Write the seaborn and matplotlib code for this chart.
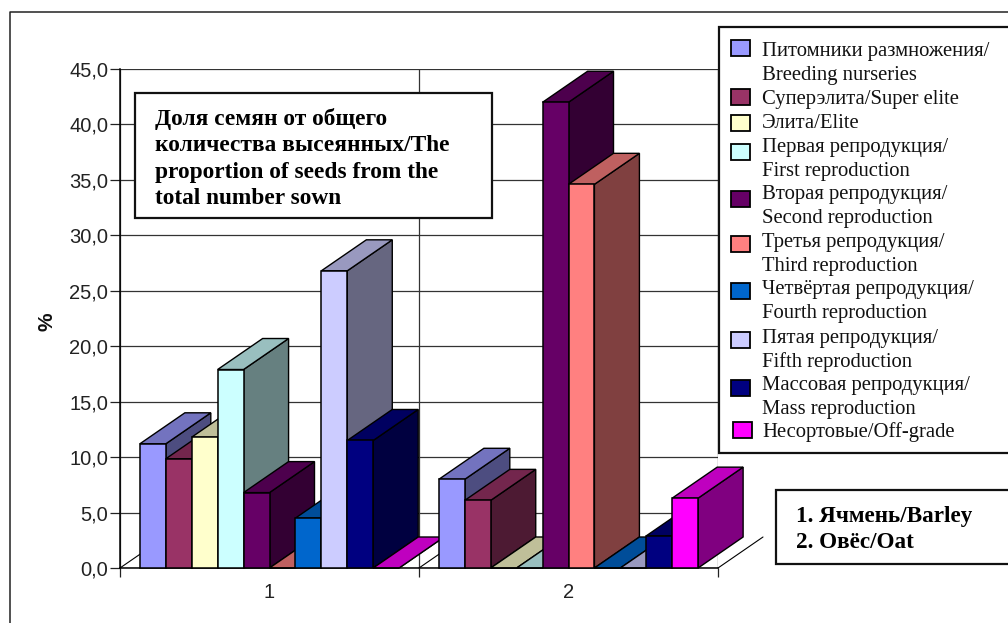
import matplotlib
matplotlib.use("Agg")
import matplotlib.pyplot as plt
from matplotlib.colors import to_rgb
from matplotlib.lines import Line2D
from matplotlib.patches import Polygon, Rectangle
import pandas as pd
import seaborn as sns

# Share of seeds by reproduction class, per crop
crops = ["1", "2"]
classes = [
    "Питомники размножения/\nBreeding nurseries",
    "Суперэлита/Super elite",
    "Элита/Elite",
    "Первая репродукция/\nFirst reproduction",
    "Вторая репродукция/\nSecond reproduction",
    "Третья репродукция/\nThird reproduction",
    "Четвёртая репродукция/\nFourth reproduction",
    "Пятая репродукция/\nFifth reproduction",
    "Массовая репродукция/\nMass reproduction",
    "Несортовые/Off-grade",
]
barley = [11.2, 9.85, 11.8, 17.9, 6.8, 0.0, 4.5, 26.8, 11.5, 0.0]
oat = [8.0, 6.1, 0.0, 0.0, 42.0, 34.6, 0.0, 0.0, 2.9, 6.3]
colors = ["#9999FF", "#993366", "#FFFFCC", "#CCFFFF", "#660066",
          "#FF8080", "#0066CC", "#CCCCFF", "#000080", "#FF00FF"]
y_ticks = [0, 5, 10, 15, 20, 25, 30, 35, 40, 45]
heading = "Доля семян от общего\nколичества высеянных/The\nproportion of seeds from the\ntotal number sown"
crop_key = "1. Ячмень/Barley\n2. Овёс/Oat"

W, H = 1008, 623
sns.set_theme(style="white")
plt.rcParams["font.family"] = ["Liberation Sans", "DejaVu Sans"]
SERIF = ["Liberation Serif", "DejaVu Serif"]


def px(x, y):
    """Pixel position, measured from the top left, in figure fractions."""
    return x / W, 1 - y / H


def shade(color, factor):
    return tuple(c * factor for c in to_rgb(color))


frame = pd.DataFrame({
    "crop": [c for c in crops for _ in classes],
    "class": classes * 2,
    "share": barley + oat,
})

fig = plt.figure(figsize=(W / 100, H / 100), dpi=100)
ax = fig.add_axes([120 / W, 1 - 568 / H, 598 / W, 499 / H])
sns.barplot(data=frame, x="crop", y="share", hue="class", hue_order=classes,
            order=crops, palette=colors, width=0.867, gap=0, saturation=1,
            errorbar=None, legend=False, edgecolor="black", linewidth=1.1, ax=ax)
ax.set_xlim(-0.5, 1.5)
ax.set_ylim(0, 45)

# Oblique depth of the pseudo-3D bars, in data units
unit_x = 598 / 2
unit_y = 499 / 45
depth_x = 45 / unit_x
depth_y = 31 / unit_y

# Faces are painted left to right so nearer bars hide the sides of earlier ones
bars = sorted([p for p in ax.patches if isinstance(p, Rectangle)], key=lambda p: p.get_x())
for i, bar in enumerate(bars):
    x0, w, h = bar.get_x(), bar.get_width(), bar.get_height()
    face = bar.get_facecolor()
    z = 3 + i * 0.01
    top = [(x0, h), (x0 + w, h), (x0 + w + depth_x, h + depth_y), (x0 + depth_x, h + depth_y)]
    side = [(x0 + w, 0), (x0 + w + depth_x, depth_y), (x0 + w + depth_x, h + depth_y), (x0 + w, h)]
    ax.add_patch(Polygon(side, closed=True, fc=shade(face[:3], 0.5), ec="black",
                         lw=1.0, zorder=z, clip_on=False))
    ax.add_patch(Polygon(top, closed=True, fc=shade(face[:3], 0.75), ec="black",
                         lw=1.0, zorder=z, clip_on=False))
    bar.set_zorder(z + 0.001)
    bar.set_clip_on(False)

# Category boundaries carry the ticks and grid, the centres carry the labels
ax.set_xticks([-0.5, 0.5, 1.5])
ax.set_xticklabels([])
ax.set_xticks([0, 1], labels=crops, minor=True)
ax.tick_params(axis="x", which="major", bottom=True, length=6.5, width=0.9, color="#222222")
ax.tick_params(axis="x", which="minor", bottom=False, length=0, pad=11, labelsize=14.5,
               labelcolor="#222222")
ax.set_yticks(y_ticks, labels=[f"{v:.1f}".replace(".", ",") for v in y_ticks])
ax.tick_params(axis="y", left=True, length=7, width=0.9, color="#222222", pad=1.5,
               labelsize=14.5, labelcolor="#222222")
ax.set_xlabel("")
ax.set_ylabel("")
ax.grid(True, axis="both", which="major", color="#333333", lw=0.9, zorder=1)
ax.set_axisbelow(True)
for name, spine in ax.spines.items():
    spine.set_visible(name in ("left", "bottom"))
    spine.set_color("black")
    spine.set_linewidth(1.1)
    spine.set_zorder(2.5)

# Floor edges running back from the category boundaries
for x in (-0.5, 0.5, 1.5):
    ax.add_line(Line2D([x, x + depth_x], [0, depth_y], color="black", lw=0.8,
                       zorder=2, clip_on=False))

fig.text(*px(47, 322), "%", rotation=90, ha="center", va="center",
         fontsize=15, fontweight="bold", color="#111111")

# Outer chart frame, open at the bottom and right
fig.add_artist(Line2D([10 / W, 10 / W, 1], [0, 1 - 12 / H, 1 - 12 / H], color="#222222",
                      lw=1.1, zorder=1))


def text_box(x0, y0, x1, y1):
    (fx0, fy0), (fx1, fy1) = px(x0, y0), px(x1, y1)
    fig.add_artist(Rectangle((fx0, fy1), fx1 - fx0, fy0 - fy1, transform=fig.transFigure,
                             fc="white", ec="#111111", lw=1.6, zorder=6, clip_on=False))


text_box(135, 93, 492, 218)
for k, line in enumerate(heading.split("\n")):
    fig.text(*px(155, 118.5 + 26.8 * k), line, family=SERIF, fontweight="bold", fontsize=16.8,
             color="black", ha="left", va="center", zorder=7)

text_box(776, 490, 1012, 564)
for k, line in enumerate(crop_key.split("\n")):
    fig.text(*px(796.5, 516.5 + 26.5 * k), line, family=SERIF, fontweight="bold", fontsize=16.7,
             color="black", ha="left", va="center", zorder=7)

# Legend panel
text_box(719, 27, 1012, 453)
fig.add_artist(Line2D([721 / W, 721 / W], [1 - 230 / H, 1 - 260 / H], color="#333333",
                      lw=1.0, zorder=5))
swatch_y = [48, 97, 123, 152, 199, 244, 291, 340, 388, 430]
line_y = [51.5, 99.5, 123.5, 147.5, 194.5, 242.5, 289.5, 338.5, 385.5, 432.5]
for i, (label, color) in enumerate(zip(classes, colors)):
    left = 733 if i == len(classes) - 1 else 731
    fx, fy = px(left, swatch_y[i] + 8)
    fig.add_artist(Rectangle((fx, fy), 19 / W, 16 / H, transform=fig.transFigure, fc=color,
                             ec="black", lw=1.3, zorder=7))
    for k, line in enumerate(label.split("\n")):
        fig.text(*px(762, line_y[i] + 23.6 * k), line, family=SERIF, fontsize=14.9,
                 color="#111111", ha="left", va="center", zorder=7)

fig.savefig("out.png", dpi=100)
